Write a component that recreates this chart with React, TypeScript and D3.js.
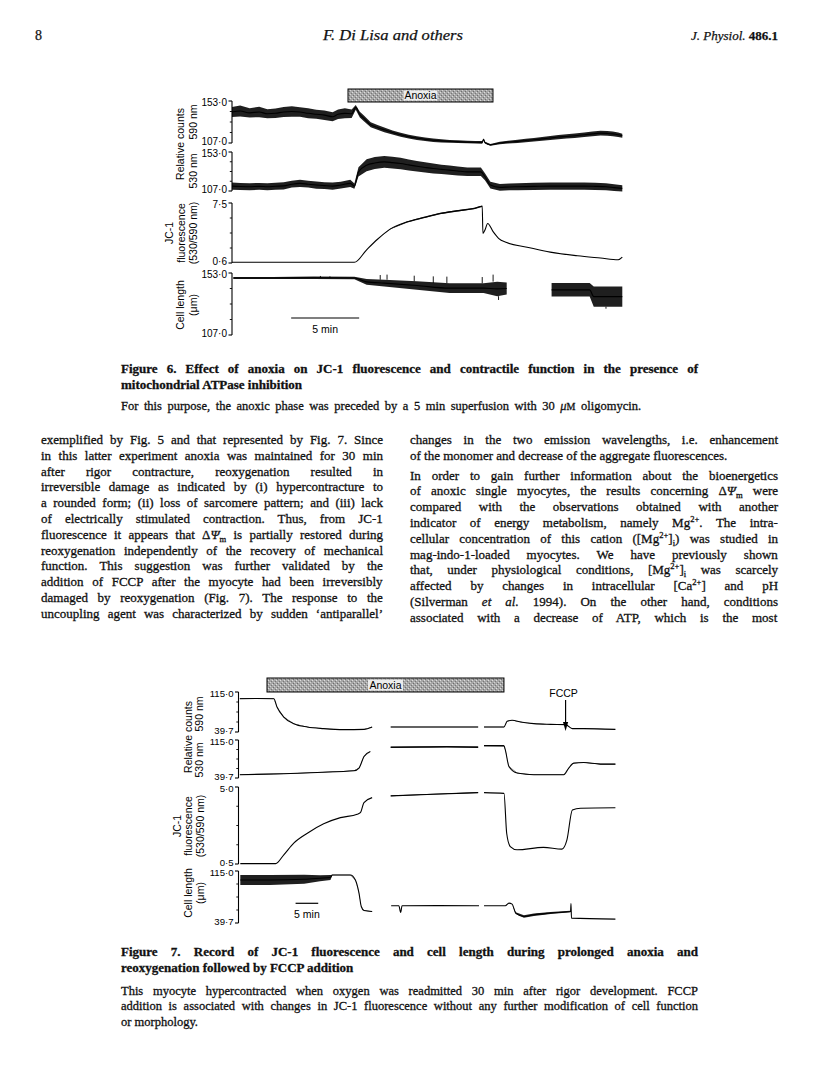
import React from 'react';
import * as d3 from 'd3';

const SERIF = '"Liberation Serif", "Times New Roman", serif';
const SANS = '"Liberation Sans", Arial, Helvetica, sans-serif';

// ---------------- Figure 6 (time in min, value, noise half-width) ----------------
const fig6Time = [0, 28.7];
const fig6Anoxia = [8.53, 19.19];
const fig6ScaleBar = [4.35, 9.35];
const fig6Range590 = [107.0, 153.0];
const fig6Range530 = [107.0, 153.0];
const fig6RangeJC1 = [0.6, 7.5];
const fig6RangeLen = [107.0, 153.0];
const fig6Labels590 = ['107·0', '153·0'];
const fig6Labels530 = ['107·0', '153·0'];
const fig6LabelsJC1 = ['0·6', '7·5'];
const fig6LabelsLen = ['107·0', '153·0'];

const fig6Trace590 = [[
  [0, 141, 5.5], [0.6, 142, 6], [1.3, 140, 5], [2.0, 141, 5.8], [2.6, 139, 5], [3.2, 139.5, 5.2],
  [3.8, 141, 5.5], [4.4, 141.5, 5.8], [5.0, 141, 5.2], [5.6, 139.5, 5.5], [6.2, 138.5, 5],
  [6.8, 137.5, 5.2], [7.4, 135.8, 5], [7.8, 138.5, 5.3], [8.3, 139.5, 5.5], [8.8, 139, 4.6],
  [9.1, 146, 2.6], [9.4, 138, 3.2], [9.7, 134, 3.2], [10.2, 127, 2.8], [10.7, 124, 2.6],
  [11.2, 121.4, 2.5], [11.8, 118.5, 2.3], [12.4, 116, 2.2], [13.0, 114, 2.1], [13.6, 112.4, 2.0],
  [14.2, 111, 1.9], [14.8, 110, 1.8], [15.4, 109.3, 1.7], [16.0, 108.8, 1.6], [16.6, 108.5, 1.5],
  [17.3, 108, 1.4], [17.9, 107.8, 1.4], [18.4, 107.7, 1.4], [18.5, 111, 0.8], [18.6, 107.5, 1.0],
  [19.0, 105, 1.0], [19.7, 107, 1.4], [20.3, 108, 1.6], [21.0, 108.8, 1.8], [21.6, 109.8, 1.9],
  [22.2, 110.6, 2.0], [22.8, 111.5, 2.1], [23.4, 112.4, 2.2], [24.0, 113.5, 2.3], [24.6, 114.2, 2.4],
  [25.2, 115, 2.4], [25.9, 116, 2.5], [26.5, 117, 2.5], [27.1, 117.8, 2.6], [27.6, 117.5, 2.6],
  [28.0, 117, 2.5], [28.4, 116, 2.4], [28.7, 115, 2.2],
]];
const fig6Trace530 = [[
  [0, 112.8, 4.2], [0.6, 112.3, 4], [1.3, 112, 4.2], [2.0, 112.5, 4], [2.6, 112, 4.2],
  [3.2, 112.6, 4], [3.8, 113, 4.2], [4.4, 115, 4], [5.0, 116, 4.2], [5.6, 115, 4],
  [6.2, 114, 4.2], [6.8, 113.3, 4], [7.4, 112.8, 4.2], [8.0, 114, 4], [8.7, 116, 4.2],
  [9.0, 112.8, 3], [9.3, 129.6, 5.5], [9.9, 137.4, 7], [10.5, 140, 7], [11.2, 141.3, 7],
  [11.8, 140.5, 7], [12.4, 139.4, 6.8], [13.0, 137.8, 6.5], [13.6, 136.2, 6.2], [14.2, 134.8, 6],
  [14.8, 133.5, 6], [15.4, 132.5, 5.5], [16.0, 131.6, 5.5], [16.6, 130.6, 5.2], [17.3, 129.6, 5],
  [17.8, 129.6, 5], [18.3, 129.6, 5], [18.6, 123.8, 4.2], [19.0, 114, 4], [19.7, 111.3, 4],
  [20.4, 111.8, 4], [21.0, 112, 4], [22.2, 112.4, 4.2], [23.4, 112.8, 4.2], [24.6, 112.8, 4.2],
  [25.9, 112.8, 4.2], [26.7, 112.5, 4.2], [27.5, 112, 4.2], [28.1, 111, 4], [28.7, 110.1, 3.8],
]];
const fig6TraceJC1 = [[
  [0, 0.68, 0], [9.0, 0.68, 0], [9.9, 2.12, 0], [10.7, 3.33, 0], [11.6, 4.47, 0.03],
  [12.9, 5.34, 0.07], [14.1, 5.83, 0.09], [15.3, 6.29, 0.09], [16.5, 6.59, 0.09], [17.8, 6.86, 0.09],
  [18.4, 7.12, 0.09], [18.45, 4.01, 0], [18.6, 4.39, 0], [18.8, 5.15, 0], [19.2, 4.2, 0],
  [19.6, 3.44, 0], [20.2, 2.95, 0], [21.7, 2.42, 0], [23.4, 1.85, 0], [25.4, 1.43, 0],
  [27.1, 1.17, 0], [28.4, 0.98, 0], [28.7, 1.28, 0],
]];
const fig6TraceLen = [
  [[0.1, 149.3, 0.8], [3, 149.3, 0.8], [6, 149.5, 0.9], [9.0, 149.3, 0.9], [9.9, 146.4, 2.1],
   [11.2, 145.5, 2.5], [13.6, 143.7, 3.1], [16.0, 141.8, 3.6], [18.5, 141.8, 3.6],
   [19.5, 141.2, 5.4], [20.2, 141.5, 4.5]],
  [[23.5, 140.5, 5], [26.3, 140.5, 5], [26.6, 135.5, 7.5], [28.7, 135.5, 7.5]],
];
const fig6SpikesLen = [
  [6.5, 149.3, 150.8], [7.2, 149.3, 150.5], [10.9, 148, 151.5], [11.4, 148, 151.8],
  [13.4, 146.8, 151], [14.8, 145.5, 150.5], [15.8, 145.5, 150.3], [18.4, 145.4, 150],
  [19.2, 146.6, 151.8], [19.6, 135.8, 133], [27.5, 128, 126.5],
];

// ---------------- Figure 7 ----------------
const fig7Time = [0, 83.2];
const fig7Anoxia = [6.29, 58.6];
const fig7ScaleBar = [12.6, 17.6];
const fig7FCCP = 72.2;
const fig7Range = [39.7, 115.0];
const fig7RangeJC1 = [0.5, 5.0];
const fig7Labels = ['39·7', '115·0'];
const fig7LabelsJC1 = ['0·5', '5·0'];

const fig7Trace590 = [
  [[0.3, 102.4, 0.7], [4, 102.8, 0.7], [7.8, 102.4, 0.6], [8.5, 86.8, 0.3], [10.0, 67.9, 0.3],
   [12.2, 55.4, 0.3], [15.2, 49.1, 0.3], [18.8, 46, 0.3], [23.2, 44.1, 0.3], [27.7, 44.7, 0.3],
   [29.5, 49.1, 0.3]],
  [[33.6, 49.1, 0.3], [43, 49.1, 0.3], [52.9, 49.1, 0.3]],
  [[54.2, 49.1, 0.3], [58.6, 49.1, 0.3], [59.3, 59.8, 0.3], [60.4, 61.7, 0.3], [62.3, 58.5, 0.3],
   [65.2, 55.4, 0.3], [68.9, 54.1, 0.3], [72.2, 53.5, 0.3], [73.7, 46, 0.3], [76.2, 46, 0.3],
   [83.2, 44.7, 0.3]],
];
const fig7Trace530 = [
  [[0.3, 46.2, 0.6], [10, 48.2, 0.6], [17.4, 50.7, 0.6], [25.5, 54, 0.6], [26.6, 59.4, 0.4],
   [27.7, 82.2, 0.4], [29.1, 92, 0.4]],
  [[33.6, 100.6, 1.5], [40, 101, 1.5], [46, 101.5, 1.5], [52.9, 100.8, 1.5]],
  [[54.2, 103.8, 1.3], [58.6, 103.6, 1.3], [58.9, 95.3, 0.4], [59.7, 62.5, 0.4], [61.5, 49.5, 0.4],
   [65.2, 46.2, 0.4], [71.8, 46.2, 0.4], [72.9, 59.4, 0.4], [74, 69.2, 0.4], [76.2, 70.4, 0.5],
   [79.9, 67.2, 0.5], [83.2, 67.2, 0.5]],
];
const fig7TraceJC1 = [
  [[0.4, 0.52, 0], [8.2, 0.52, 0], [10, 1.04, 0], [12.2, 1.72, 0], [15.2, 2.30, 0], [18.8, 2.85, 0],
   [22.5, 3.21, 0], [26.2, 3.41, 0], [26.9, 3.50, 0], [27.7, 4.09, 0], [29.5, 4.38, 0]],
  [[33.6, 4.48, 0.02], [43, 4.58, 0.02], [52.9, 4.67, 0.02]],
  [[54.2, 4.67, 0], [58.6, 4.63, 0], [59.2, 2.30, 0], [60.0, 1.52, 0], [61.5, 1.33, 0],
   [67.3, 1.47, 0], [71.4, 1.37, 0], [72.5, 1.91, 0], [73.7, 3.66, 0], [75.5, 3.76, 0],
   [83.2, 3.79, 0]],
];
const fig7TraceLen = [
  [[0.4, 102, 7.2], [7, 102, 7.2], [14.5, 103, 6.5], [18, 104.5, 4.5], [20.3, 105.6, 3.6],
   [20.7, 109.2, 0.3], [24.7, 109.2, 0.3], [25.8, 102, 0.3], [26.6, 82.9, 0.3], [27.1, 63.6, 0.3],
   [27.7, 57.8, 0.3], [29.5, 56.4, 0.3]],
  [[33.7, 64.6, 0], [35.4, 64.6, 0], [35.8, 55, 0], [36.1, 64.6, 0], [44, 64.8, 0], [53.1, 64.6, 0]],
  [[54.2, 64.6, 0], [58.9, 64.6, 0], [59.7, 68.5, 0], [60.4, 67, 0], [61.2, 54.1, 1.2],
   [63, 49.2, 1.8], [65.2, 51.6, 1.8], [68.9, 54.1, 1.5], [73.3, 56.4, 1.2], [73.4, 68, 0],
   [73.5, 46.8, 0], [83.2, 45.3, 0]],
];

// ---------------- Page text ----------------
const headerLeft = '8';
const headerCenter = 'F. Di Lisa and others';
const headerJournal = 'J. Physiol.';
const headerVolume = '486.1';

const fig6Title = [
  'Figure 6. Effect of anoxia on JC-1 fluorescence and contractile function in the presence of',
  'mitochondrial ATPase inhibition',
];
const fig6Legend = ['For this purpose, the anoxic phase was preceded by a 5 min superfusion with 30 *μ*~{M} oligomycin.'];

const leftColumn = [
  'exemplified by Fig. 5 and that represented by Fig. 7. Since',
  'in this latter experiment anoxia was maintained for 30 min',
  'after rigor contracture, reoxygenation resulted in',
  'irreversible damage as indicated by (i) hypercontracture to',
  'a rounded form; (ii) loss of sarcomere pattern; and (iii) lack',
  'of electrically stimulated contraction. Thus, from JC-1',
  'fluorescence it appears that Δ*Ψ*_{m} is partially restored during',
  'reoxygenation independently of the recovery of mechanical',
  'function. This suggestion was further validated by the',
  'addition of FCCP after the myocyte had been irreversibly',
  'damaged by reoxygenation (Fig. 7). The response to the',
  'uncoupling agent was characterized by sudden ‘antiparallel’',
];
const rightColumnA = [
  'changes in the two emission wavelengths, i.e. enhancement',
  'of the monomer and decrease of the aggregate fluorescences.',
];
const rightColumnB = [
  'In order to gain further information about the bioenergetics',
  'of anoxic single myocytes, the results concerning Δ*Ψ*_{m} were',
  'compared with the observations obtained with another',
  'indicator of energy metabolism, namely Mg^{2+}. The intra-',
  'cellular concentration of this cation ([Mg^{2+}]_{i}) was studied in',
  'mag-indo-1-loaded myocytes. We have previously shown',
  'that, under physiological conditions, [Mg^{2+}]_{i} was scarcely',
  'affected by changes in intracellular [Ca^{2+}] and pH',
  '(Silverman *et al.* 1994). On the other hand, conditions',
  'associated with a decrease of ATP, which is the most',
];

const fig7Title = [
  'Figure 7. Record of JC-1 fluorescence and cell length during prolonged anoxia and',
  'reoxygenation followed by FCCP addition',
];
const fig7Legend = [
  'This myocyte hypercontracted when oxygen was readmitted 30 min after rigor development. FCCP',
  'addition is associated with changes in JC-1 fluorescence without any further modification of cell function',
  'or morphology.',
];

// ---------------- helpers ----------------
type Run = { text: string; kind: string };
function parse(s: string): Run[] {
  const re = /(\^\{[^}]*\}|_\{[^}]*\}|~\{[^}]*\}|\*[^*]+\*)/g;
  return s.split(re).filter((p) => p !== '').map((p) => {
    if (p.startsWith('^{')) return { text: p.slice(2, -1), kind: 'sup' };
    if (p.startsWith('_{')) return { text: p.slice(2, -1), kind: 'sub' };
    if (p.startsWith('~{')) return { text: p.slice(2, -1), kind: 'sc' };
    if (p.length > 1 && p.startsWith('*') && p.endsWith('*')) return { text: p.slice(1, -1), kind: 'i' };
    return { text: p, kind: 'n' };
  });
}
let _ctx: any = null;
function measure(text: string, font: string, size: number) {
  if (!_ctx && typeof document !== 'undefined') _ctx = document.createElement('canvas').getContext('2d');
  if (!_ctx) return text.length * size * 0.45;
  _ctx.font = font;
  return _ctx.measureText(text).width;
}
function runStyle(r: Run, size: number) {
  let fs = size, style = 'normal', shift = 0;
  if (r.kind === 'sup') { fs = size * 0.66; shift = -size * 0.38; }
  if (r.kind === 'sub') { fs = size * 0.66; shift = size * 0.22; }
  if (r.kind === 'sc') fs = size * 0.8;
  if (r.kind === 'i') style = 'italic';
  return { fs, style, shift };
}

function TextLine({ x, y, width, str, size, weight = 'normal', justify = false }: any) {
  const runs = parse(str);
  let natural = 0, spaces = 0;
  for (const r of runs) {
    const { fs, style } = runStyle(r, size);
    natural += measure(r.text, `${style} ${weight} ${fs}px ${SERIF}`, fs);
    if (r.kind === 'n' || r.kind === 'i') spaces += (r.text.match(/ /g) || []).length;
  }
  let ws = 0;
  let tl: number | undefined;
  if (justify) {
    ws = spaces ? (width - natural) / spaces : 0;
    if (ws < -0.6) { ws = 0; tl = width; }
  } else if (natural > width) tl = width;
  let offset = 0;
  return (
    <text x={x} y={y} fontFamily={SERIF} fontSize={size} fontWeight={weight} fill="#111"
      stroke="#111" strokeWidth={0.3}
      style={{ whiteSpace: 'pre', wordSpacing: `${ws}px` }}
      textLength={tl} lengthAdjust={tl ? 'spacingAndGlyphs' : undefined}>
      {runs.map((r, i) => {
        const { fs, style, shift } = runStyle(r, size);
        const dy = shift - offset;
        offset = shift;
        return <tspan key={i} dy={dy || undefined} fontSize={fs} fontStyle={style}>{r.text}</tspan>;
      })}
    </text>
  );
}

function Block({ lines, x, y0, step, width, size, weight = 'normal', justifyLast = false }: any) {
  return (
    <g>
      {lines.map((s: string, i: number) => (
        <TextLine key={i} x={x} y={y0 + i * step} width={width} str={s} size={size} weight={weight}
          justify={i < lines.length - 1 || justifyLast} />
      ))}
    </g>
  );
}

const MINOR = [0.25, 0.5, 0.75];

function Panel({ x, y, segments, labels, spikes, fontSize = 10 }: any) {
  const [d0, d1] = y.domain();
  const x0 = x.range()[0];
  const line = d3.line<any>().x((d) => x(d[0])).y((d) => y(d[1])).curve(d3.curveMonotoneX);
  const area = d3.area<any>().x((d) => x(d[0])).y0((d) => y(d[1] - d[2])).y1((d) => y(d[1] + d[2]))
    .curve(d3.curveLinear);
  const offs = [2.3, 4.6];
  return (
    <g>
      <line x1={x0} x2={x0} y1={y(d0)} y2={y(d1)} stroke="#000" strokeWidth={1.1} />
      {[d0, d1].map((v, i) => (
        <g key={i}>
          <line x1={x0 - 3.5} x2={x0} y1={y(v)} y2={y(v)} stroke="#000" strokeWidth={1.1} />
          <text x={x0 - 5} y={y(v) + offs[i]} textAnchor="end" fontFamily={SANS} fontSize={fontSize} fill="#000">
            {labels[i]}
          </text>
        </g>
      ))}
      {MINOR.map((f, i) => {
        const yy = y(d0 + (d1 - d0) * f);
        return <line key={i} x1={x0 - 2.2} x2={x0} y1={yy} y2={yy} stroke="#000" strokeWidth={0.9} />;
      })}
      {segments.map((seg: any, i: number) => (
        <g key={i}>
          {seg.some((p: any) => p[2] > 0) && <path d={area(seg) || ''} fill="#000" fillOpacity={0.88} />}
          <path d={line(seg) || ''} fill="none" stroke="#000" strokeWidth={1.1} />
        </g>
      ))}
      {(spikes || []).map((s: any, i: number) => (
        <line key={i} x1={x(s[0])} x2={x(s[0])} y1={y(s[1])} y2={y(s[2])} stroke="#000" strokeWidth={0.9} />
      ))}
    </g>
  );
}

function RotLabel({ cx, cy, text, size = 10.5 }: any) {
  return (
    <text transform={`translate(${cx + size * 0.36},${cy}) rotate(-90)`} textAnchor="middle"
      fontFamily={SANS} fontSize={size} fill="#000">{text}</text>
  );
}

function AnoxiaBar({ x, t, y, h, boxW }: any) {
  const x1 = x(t[0]), x2 = x(t[1]);
  const cx = (x1 + x2) / 2;
  return (
    <g>
      <rect x={x1} y={y} width={x2 - x1} height={h} fill="url(#stipple)" stroke="#000" strokeWidth={1} />
      <rect x={cx - boxW / 2} y={y + 1.5} width={boxW} height={h - 3} fill="#ececec" />
      <text x={cx} y={y + h / 2 + 3.7} textAnchor="middle" fontFamily={SANS} fontSize={10.5} fill="#000">Anoxia</text>
    </g>
  );
}

function ScaleBar({ x, t, y }: any) {
  return (
    <g>
      <line x1={x(t[0])} x2={x(t[1])} y1={y} y2={y} stroke="#000" strokeWidth={1.2} />
      <text x={(x(t[0]) + x(t[1])) / 2} y={y + 15} textAnchor="middle" fontFamily={SANS} fontSize={10.5}>5 min</text>
    </g>
  );
}

export default function App() {
  // Figure 6 scales
  const x6 = d3.scaleLinear().domain(fig6Time).range([232, 622.3]);
  const y6a = d3.scaleLinear().domain(fig6Range590).range([143, 101]);
  const y6b = d3.scaleLinear().domain(fig6Range530).range([191, 152]);
  const y6c = d3.scaleLinear().domain(fig6RangeJC1).range([263, 203]);
  const y6d = d3.scaleLinear().domain(fig6RangeLen).range([335, 273]);
  // Figure 7 scales
  const x7 = d3.scaleLinear().domain(fig7Time).range([238.5, 615.4]);
  const y7a = d3.scaleLinear().domain(fig7Range).range([732, 692]);
  const y7b = d3.scaleLinear().domain(fig7Range).range([778, 740]);
  const y7c = d3.scaleLinear().domain(fig7RangeJC1).range([864, 787]);
  const y7d = d3.scaleLinear().domain(fig7Range).range([923, 871]);

  const fx = x7(fig7FCCP);
  const bodyStep = 15.8;
  const bodyTop = 444;

  return (
    <svg width={816} height={1088} viewBox="0 0 816 1088"
      style={{ position: 'absolute', left: 0, top: 0, background: '#fff' }}>
      <defs>
        <pattern id="stipple" width="4" height="4" patternUnits="userSpaceOnUse">
          <rect width="4" height="4" fill="#a6a6a6" />
          <rect x="0" y="0" width="1" height="1" fill="#dedede" />
          <rect x="2" y="2" width="1" height="1" fill="#d4d4d4" />
          <rect x="1" y="3" width="1" height="1" fill="#6e6e6e" />
          <rect x="3" y="1" width="1" height="1" fill="#777" />
        </pattern>
      </defs>
      <rect width={816} height={1088} fill="#fff" />

      {/* header */}
      <text x={35} y={40} fontFamily={SERIF} fontSize={14} fill="#111" stroke="#111" strokeWidth={0.25}>{headerLeft}</text>
      <text x={393} y={40} textAnchor="middle" fontFamily={SERIF} fontSize={15} fontStyle="italic" fill="#111"
        stroke="#111" strokeWidth={0.25} textLength={140} lengthAdjust="spacingAndGlyphs">{headerCenter}</text>
      <text x={778} y={40} textAnchor="end" fontFamily={SERIF} fontSize={13} fill="#111" stroke="#111" strokeWidth={0.25}
        style={{ whiteSpace: 'pre' }}>
        <tspan fontStyle="italic">{headerJournal}</tspan>
        <tspan fontWeight="bold">{' ' + headerVolume}</tspan>
      </text>

      {/* Figure 6 */}
      <AnoxiaBar x={x6} t={fig6Anoxia} y={89} h={13} boxW={34} />
      <Panel x={x6} y={y6a} segments={fig6Trace590} labels={fig6Labels590} />
      <Panel x={x6} y={y6b} segments={fig6Trace530} labels={fig6Labels530} />
      <Panel x={x6} y={y6c} segments={fig6TraceJC1} labels={fig6LabelsJC1} />
      <Panel x={x6} y={y6d} segments={fig6TraceLen} labels={fig6LabelsLen} spikes={fig6SpikesLen} />
      <ScaleBar x={x6} t={fig6ScaleBar} y={318} />
      <RotLabel cx={180} cy={144} text="Relative counts" />
      <RotLabel cx={193} cy={122} text="590 nm" />
      <RotLabel cx={193} cy={171} text="530 nm" />
      <RotLabel cx={169} cy={233} text="JC-1" />
      <RotLabel cx={181} cy={233} text="fluorescence" />
      <RotLabel cx={193} cy={233} text="(530/590 nm)" />
      <RotLabel cx={180} cy={305} text="Cell length" />
      <RotLabel cx={193} cy={305} text="(μm)" />

      {/* Figure 6 caption */}
      <Block lines={fig6Title} x={121} y0={373} step={16} width={577} size={13} weight="bold" />
      <Block lines={fig6Legend} x={121} y0={409.5} step={15} width={520} size={12.5} justifyLast />

      {/* body text */}
      <Block lines={leftColumn} x={41} y0={bodyTop} step={bodyStep} width={342} size={13} justifyLast />
      <Block lines={rightColumnA} x={410} y0={bodyTop} step={bodyStep} width={368} size={13} />
      <Block lines={rightColumnB} x={410} y0={bodyTop + 2 * bodyStep + 4} step={bodyStep} width={368} size={13} justifyLast />

      {/* Figure 7 */}
      <AnoxiaBar x={x7} t={fig7Anoxia} y={678} h={14} boxW={35} />
      <Panel x={x7} y={y7a} segments={fig7Trace590} labels={fig7Labels} fontSize={9.6} />
      <Panel x={x7} y={y7b} segments={fig7Trace530} labels={fig7Labels} fontSize={9.6} />
      <Panel x={x7} y={y7c} segments={fig7TraceJC1} labels={fig7LabelsJC1} fontSize={9.6} />
      <Panel x={x7} y={y7d} segments={fig7TraceLen} labels={fig7Labels} fontSize={9.6} />
      <ScaleBar x={x7} t={fig7ScaleBar} y={903.3} />
      <RotLabel cx={188} cy={737} text="Relative counts" />
      <RotLabel cx={199.5} cy={714} text="590 nm" />
      <RotLabel cx={199.5} cy={760} text="530 nm" />
      <RotLabel cx={177} cy={826} text="JC-1" />
      <RotLabel cx={188.5} cy={826} text="fluorescence" />
      <RotLabel cx={200} cy={826} text="(530/590 nm)" />
      <RotLabel cx={188.5} cy={893} text="Cell length" />
      <RotLabel cx={200} cy={893} text="(μm)" />
      <text x={fx - 2} y={697} textAnchor="middle" fontFamily={SANS} fontSize={10.5}>FCCP</text>
      <line x1={fx} x2={fx} y1={700} y2={724} stroke="#000" strokeWidth={1.2} />
      <path d={`M${fx},${731} L${fx - 2.6},${722} L${fx + 2.6},${722} Z`} fill="#000" />

      {/* Figure 7 caption */}
      <Block lines={fig7Title} x={121} y0={956} step={15.5} width={577} size={13} weight="bold" />
      <Block lines={fig7Legend} x={121} y0={995} step={15.3} width={577} size={12.5} />
    </svg>
  );
}
